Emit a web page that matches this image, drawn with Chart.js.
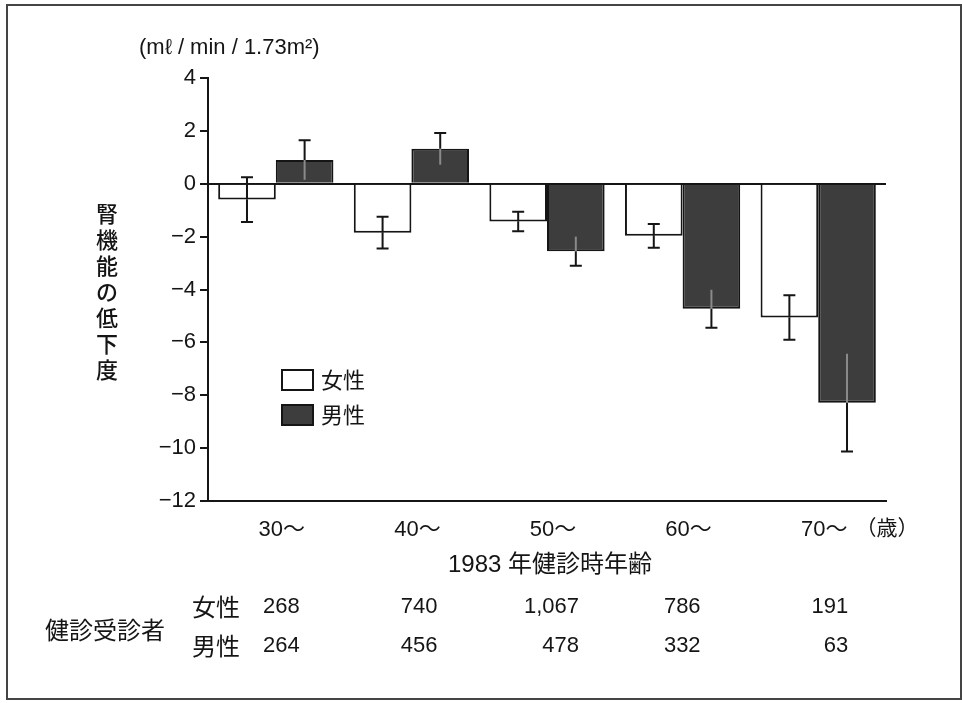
<!DOCTYPE html>
<html>
<head>
<meta charset="utf-8">
<script src="https://cdn.jsdelivr.net/npm/chart.js@4.4.0/dist/chart.umd.min.js"></script>
<style>
  body { margin: 0; background: #fff; }
  #chart { display: block; }
</style>
</head>
<body>
<canvas id="chart" width="962" height="703"></canvas>
<script>
const ageGroups = ['30～', '40～', '50～', '60～', '70～'];
const femaleMean = [-0.6, -1.85, -1.43, -1.97, -5.06];
const femaleErr = [0.85, 0.6, 0.37, 0.45, 0.84];
const maleMean = [0.9, 1.32, -2.55, -4.73, -8.28];
const maleErr = [0.75, 0.6, 0.55, 0.72, 1.85];
const femaleCount = ['268', '740', '1,067', '786', '191'];
const maleCount = ['264', '456', '478', '332', '63'];
const seriesNames = ['女性', '男性'];

const FONT = "'Liberation Sans', 'Noto Sans CJK JP', sans-serif";
const CJK = "'Noto Sans CJK JP', sans-serif";
const INK = '#151515';
const MALE_FILL = '#3d3d3d';

const errorBars = {
  id: 'errorBars',
  afterDatasetsDraw(chart) {
    const { ctx, scales: { y } } = chart;
    const errs = [femaleErr, maleErr];
    ctx.save();
    ctx.lineWidth = 2;
    chart.data.datasets.forEach((ds, di) => {
      const meta = chart.getDatasetMeta(di);
      meta.data.forEach((bar, i) => {
        const v = ds.data[i];
        const e = errs[di][i];
        const outer = y.getPixelForValue(v + Math.sign(v) * e);
        const inner = y.getPixelForValue(v - Math.sign(v) * e);
        const x = bar.x;
        const cap = 6;
        // outer half with cap
        ctx.strokeStyle = INK;
        ctx.beginPath();
        ctx.moveTo(x, bar.y);
        ctx.lineTo(x, outer);
        ctx.moveTo(x - cap, outer);
        ctx.lineTo(x + cap, outer);
        ctx.stroke();
        // inner half (barely visible inside the dark bars)
        ctx.strokeStyle = di === 1 ? '#8a8a8a' : INK;
        ctx.beginPath();
        ctx.moveTo(x, bar.y);
        ctx.lineTo(x, inner);
        if (di === 0) {
          ctx.moveTo(x - cap, inner);
          ctx.lineTo(x + cap, inner);
        }
        ctx.stroke();
      });
    });
    ctx.restore();
  }
};

const decorations = {
  id: 'decorations',
  beforeDraw(chart) {
    const { ctx } = chart;
    ctx.save();
    ctx.fillStyle = '#fff';
    ctx.fillRect(0, 0, chart.width, chart.height);
    ctx.strokeStyle = '#444';
    ctx.lineWidth = 2;
    ctx.strokeRect(7, 5, 954, 694);
    ctx.restore();
  },
  afterDraw(chart) {
    const { ctx, scales: { x } } = chart;
    ctx.save();
    ctx.fillStyle = INK;
    ctx.textBaseline = 'middle';

    // unit label
    ctx.font = `22px ${FONT}`;
    ctx.textAlign = 'left';
    ctx.fillText('(mℓ / min / 1.73m²)', 139, 48);

    // vertical y title
    ctx.font = `500 22px ${CJK}`;
    ctx.textAlign = 'center';
    const title = '腎機能の低下度';
    [...title].forEach((ch, i) => ctx.fillText(ch, 107, 214 + i * 26));

    // unit after last category
    ctx.font = `21px ${CJK}`;
    ctx.fillText('（歳）', 887, 527);

    // x title
    ctx.font = `24px ${FONT}`;
    ctx.fillText('1983 年健診時年齢', 550, 565);

    // legend
    const legendY = [380, 415];
    chart.data.datasets.forEach((ds, i) => {
      ctx.fillStyle = ds.backgroundColor;
      ctx.fillRect(282, legendY[i] - 10, 31, 20);
      ctx.strokeStyle = INK;
      ctx.lineWidth = 2;
      ctx.strokeRect(282, legendY[i] - 10, 31, 20);
      ctx.fillStyle = INK;
      ctx.textAlign = 'left';
      ctx.font = `22px ${CJK}`;
      ctx.fillText(seriesNames[i], 321, legendY[i]);
    });

    // examinee counts table
    ctx.font = `24px ${CJK}`;
    ctx.textAlign = 'center';
    ctx.fillText('健診受診者', 105, 630);
    ctx.fillText(seriesNames[0], 216, 607);
    ctx.fillText(seriesNames[1], 216, 646);
    ctx.font = `22px ${FONT}`;
    ctx.textAlign = 'right';
    const offsets = [24, 26, 32, 18, 30];
    ageGroups.forEach((g, i) => {
      const px = x.getPixelForValue(i) + offsets[i];
      ctx.fillText(femaleCount[i], px, 607);
      ctx.fillText(maleCount[i], px, 646);
    });
    ctx.restore();
  }
};

new Chart(document.getElementById('chart').getContext('2d'), {
  type: 'bar',
  data: {
    labels: ageGroups,
    datasets: [
      {
        label: seriesNames[0],
        data: femaleMean,
        backgroundColor: '#ffffff',
        borderColor: INK,
        borderWidth: 2,
        barPercentage: 1,
        categoryPercentage: 0.85
      },
      {
        label: seriesNames[1],
        data: maleMean,
        backgroundColor: MALE_FILL,
        borderColor: INK,
        borderWidth: 2,
        barPercentage: 1,
        categoryPercentage: 0.85
      }
    ]
  },
  options: {
    responsive: false,
    animation: false,
    layout: { padding: { left: 140, top: 78, right: 76, bottom: 162 } },
    plugins: {
      legend: { display: false },
      tooltip: { enabled: false }
    },
    scales: {
      x: {
        grid: { display: false },
        border: { display: true, color: INK, width: 2 },
        ticks: { color: INK, font: { family: FONT, size: 22 }, padding: 8, labelOffset: 6 },
        afterFit: (scale) => { scale.height = 40; }
      },
      y: {
        min: -12,
        max: 4,
        ticks: {
          stepSize: 2,
          color: INK,
          font: { family: FONT, size: 22 },
          padding: 4,
          callback: (v) => String(v).replace('-', '−')
        },
        grid: {
          drawOnChartArea: true,
          drawTicks: true,
          tickLength: 8,
          lineWidth: 2,
          color: (c) => (c.tick && c.tick.value === 0 ? INK : 'rgba(0,0,0,0)'),
          tickColor: INK
        },
        border: { display: true, color: INK, width: 2 },
        afterFit: (scale) => { scale.width = 68; }
      }
    }
  },
  plugins: [decorations, errorBars]
});
</script>
</body>
</html>
